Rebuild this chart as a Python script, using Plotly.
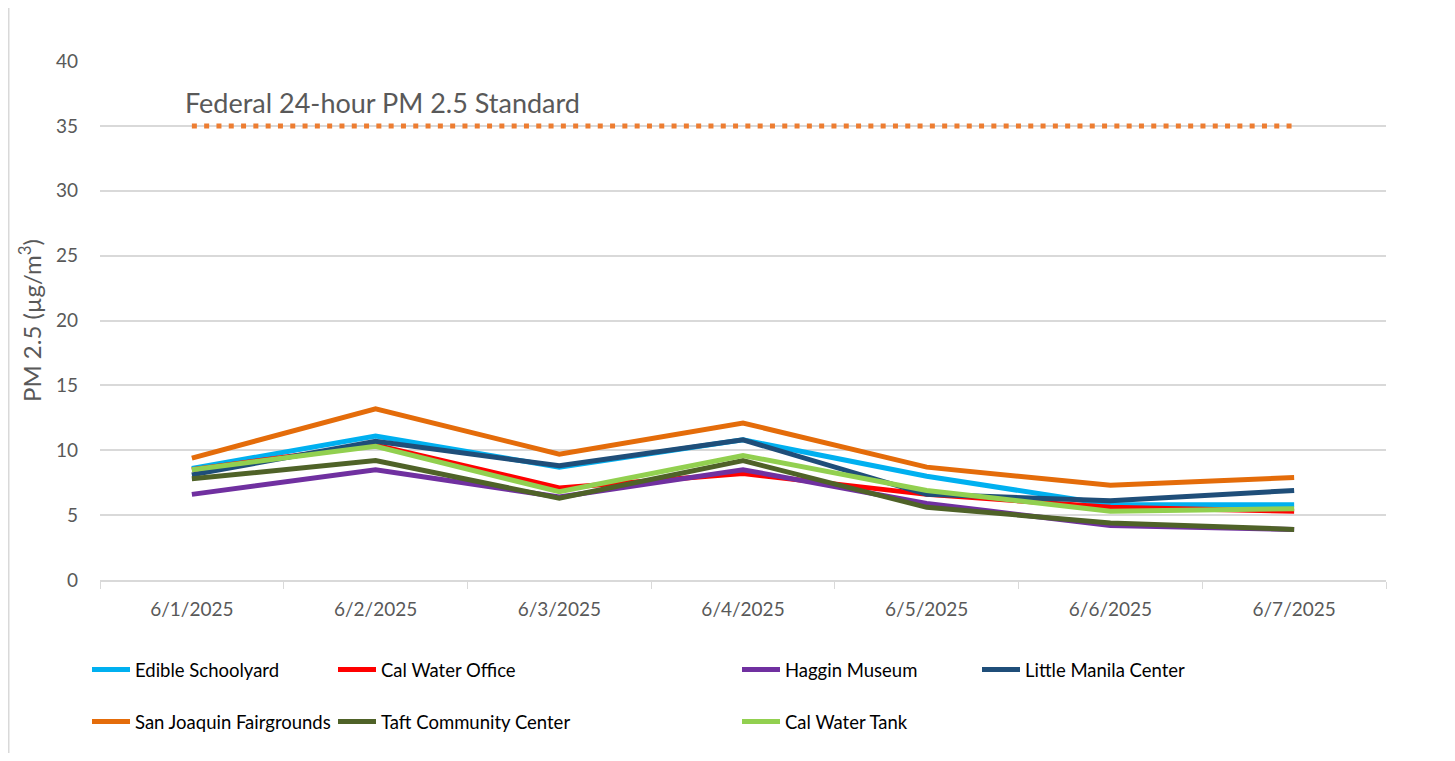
import plotly.graph_objects as go

dates = ["6/1/2025", "6/2/2025", "6/3/2025", "6/4/2025", "6/5/2025", "6/6/2025", "6/7/2025"]

edible_schoolyard = [8.6, 11.1, 8.7, 10.8, 8.0, 5.8, 5.8]
cal_water_office = [8.5, 10.4, 7.1, 8.2, 6.6, 5.6, 5.3]
haggin_museum = [6.6, 8.5, 6.4, 8.5, 5.9, 4.2, 3.9]
little_manila = [8.1, 10.7, 8.8, 10.8, 6.6, 6.1, 6.9]
san_joaquin = [9.4, 13.2, 9.7, 12.1, 8.7, 7.3, 7.9]
taft_center = [7.8, 9.2, 6.3, 9.2, 5.6, 4.4, 3.9]
cal_water_tank = [8.5, 10.3, 6.8, 9.6, 6.9, 5.3, 5.5]
federal_standard = [35, 35, 35, 35, 35, 35, 35]

series = [
    ("Edible Schoolyard", edible_schoolyard, "#00B0F0"),
    ("Cal Water Office", cal_water_office, "#FF0000"),
    ("Haggin Museum", haggin_museum, "#7030A0"),
    ("Little Manila Center", little_manila, "#1F4E79"),
    ("San Joaquin Fairgrounds", san_joaquin, "#E46C0A"),
    ("Taft Community Center", taft_center, "#4F6228"),
    ("Cal Water Tank", cal_water_tank, "#92D050"),
]

# page body offsets the figure by 8px; work in figure pixels
OFF = 8
W, H = 1455 - OFF, 761 - 2 * OFF
L, R, T, B = 100 - OFF, 1386 - OFF, 61 - OFF, 580 - OFF
PW, PH = R - L, B - T

def px(x):
    return (x - OFF - L) / PW

def py(y):
    return (B - (y - OFF)) / PH

# legend positions (screen x of item start, screen y of row center)
leg_pos = [(87, 670), (333, 670), (737, 670), (977, 670),
           (87, 722), (333, 722), (737, 722)]

FONT = "Lato, sans-serif"

fig = go.Figure()

fig.add_trace(go.Scatter(
    x=dates, y=federal_standard, mode="lines",
    line=dict(color="#ED7D31", width=5, dash="5px,7.3px"),
    showlegend=False, hoverinfo="skip"))

legend_layouts = {}
for i, (name, vals, color) in enumerate(series):
    lname = "legend" if i == 0 else f"legend{i+1}"
    fig.add_trace(go.Scatter(
        x=dates, y=vals, mode="lines", name=name,
        line=dict(color=color, width=5),
        legend=lname))
    lx, ly = leg_pos[i]
    legend_layouts[lname] = dict(
        x=px(lx), y=py(ly), xanchor="left", yanchor="middle",
        bgcolor="rgba(0,0,0,0)", borderwidth=0,
        font=dict(family=FONT, size=18.5, color="#000000"),
        itemwidth=38)

fig.add_annotation(
    x=px(183), y=35, xref="paper", yref="y",
    text="Federal 24-hour PM 2.5 Standard", showarrow=False,
    xanchor="left", yanchor="bottom", yshift=5,
    font=dict(family=FONT, size=27, color="#595959"))

fig.add_shape(
    type="rect", xref="paper", yref="paper",
    x0=px(8.5), x1=px(1448), y0=py(775), y1=py(5),
    line=dict(color="#D9D9D9", width=2), fillcolor="rgba(0,0,0,0)", layer="below")

fig.update_layout(
    width=W, height=H,
    margin=dict(l=L, r=W - R, t=T, b=H - B, autoexpand=False),
    paper_bgcolor="white", plot_bgcolor="white",
    font=dict(family=FONT, color="#595959"),
    xaxis=dict(
        type="category", range=[-0.5, 6.5],
        showgrid=False, showline=True, linecolor="#D9D9D9", linewidth=1.5,
        ticks="outside", tickson="boundaries", ticklen=7, tickcolor="#D9D9D9",
        tickfont=dict(family=FONT, size=19, color="#595959"),
        ticklabelstandoff=11, zeroline=False),
    yaxis=dict(
        range=[0, 40], tickvals=[0, 5, 10, 15, 20, 25, 30, 35, 40],
        showgrid=True, gridcolor="#D9D9D9", gridwidth=1.5,
        showline=False, zeroline=False,
        tickfont=dict(family=FONT, size=19, color="#595959"),
        ticklabelstandoff=21,
        title=dict(text="PM 2.5 (µg/m<sup>3</sup>)", standoff=7,
                   font=dict(family=FONT, size=24, color="#595959"))),
    **legend_layouts,
)

fig.write_html("out.html")
